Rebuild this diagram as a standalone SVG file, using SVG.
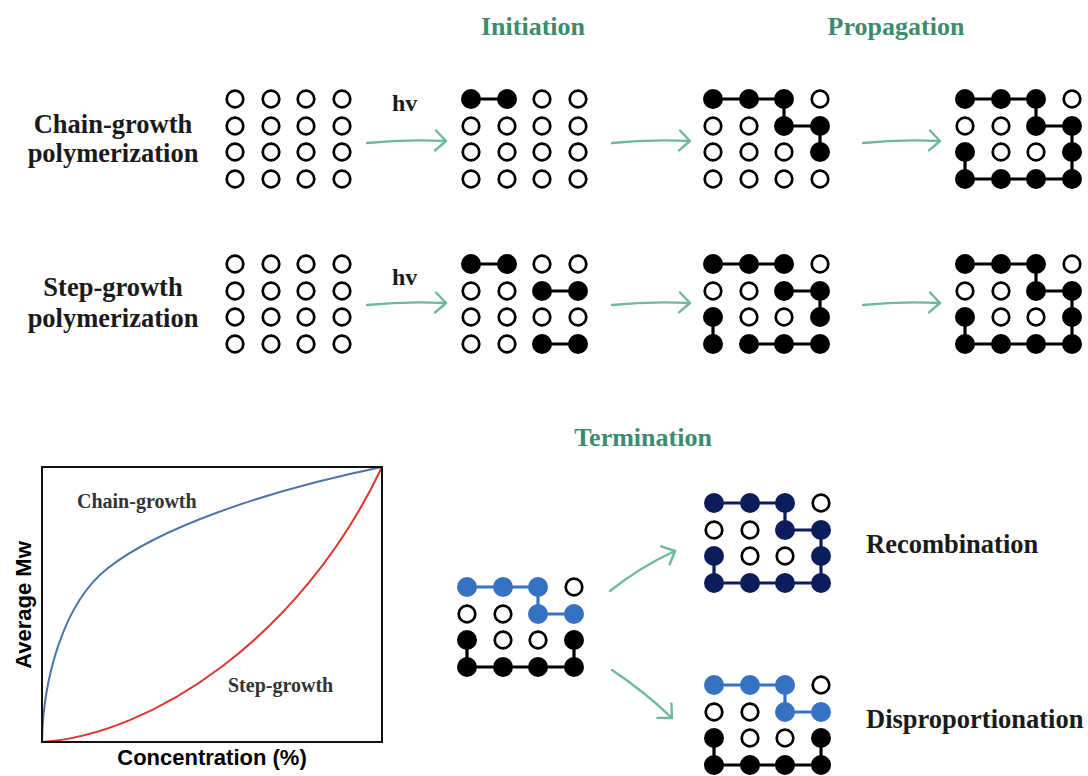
<svg xmlns="http://www.w3.org/2000/svg" width="1088" height="776" viewBox="0 0 1088 776">
<defs>
<style>
.o{fill:#fff;stroke:#000;stroke-width:2.7}
.f{fill:#000}
.fb{fill:#3572c2}
.fn{fill:#0b1d5a}
.l{fill:none;stroke:#000;stroke-width:3.2}
.lb{fill:none;stroke:#3572c2;stroke-width:3.2}
.ln{fill:none;stroke:#0b1d5a;stroke-width:3.2}
.arr{fill:none;stroke:#6db99c;stroke-width:2.4;stroke-linecap:round;marker-end:url(#ah)}
.hd{font-family:"Liberation Serif","Times New Roman",serif;font-weight:bold;font-size:26px;fill:#3d8b6e}
.lab{font-family:"Liberation Serif","Times New Roman",serif;font-weight:bold;font-size:26.5px;fill:#1a1a1a}
.hv{font-family:"Liberation Serif","Times New Roman",serif;font-weight:bold;font-size:24px;fill:#1a1a1a}
.gl{font-family:"Liberation Serif","Times New Roman",serif;font-weight:bold;font-size:20px;fill:#333}
.ax{font-family:"Liberation Sans",Arial,sans-serif;font-weight:bold;font-size:22px;fill:#000}
</style>
<marker id="ah" viewBox="0 0 14 24" refX="12" refY="12" markerWidth="14" markerHeight="24" orient="auto" markerUnits="userSpaceOnUse">
<path d="M1.5,2 L12,12 L1.5,22" fill="none" stroke="#6db99c" stroke-width="2.4" stroke-linecap="round" stroke-linejoin="round"/>
</marker>
</defs>
<rect width="1088" height="776" fill="#fff"/>

<!-- Headers -->
<text class="hd" x="533" y="35" text-anchor="middle">Initiation</text>
<text class="hd" x="896" y="35" text-anchor="middle">Propagation</text>
<text class="hd" x="643" y="446" text-anchor="middle">Termination</text>

<!-- Side labels -->
<g id="label-chain">
<text class="lab" x="113" y="133" text-anchor="middle">Chain-growth</text>
<text class="lab" x="113" y="162" text-anchor="middle">polymerization</text>
</g>
<g id="label-step">
<text class="lab" x="113" y="296" text-anchor="middle">Step-growth</text>
<text class="lab" x="113" y="327" text-anchor="middle">polymerization</text>
</g>
<text class="hv" x="392" y="111">hv</text>
<text class="hv" x="392" y="285">hv</text>
<text class="lab" x="866" y="553">Recombination</text>
<text class="lab" x="866" y="728">Disproportionation</text>

<!-- Connectors -->
<g id="connectors">
<path class="arr" d="M367,143 Q405,139 446,141"/>
<path class="arr" d="M612,143 Q650,139 690,141"/>
<path class="arr" d="M863,143 Q900,139 940,141"/>
<path class="arr" d="M367,305 Q405,301 446,303"/>
<path class="arr" d="M612,305 Q650,301 690,303"/>
<path class="arr" d="M863,305 Q900,301 940,303"/>
<path class="arr" d="M610,591 Q640,567 675,551"/>
<path class="arr" d="M612,670 Q645,692 672,718"/>
</g>

<!-- G1 chain initial -->
<g id="chain-monomers" transform="translate(235,99)">
<circle class="o" cx="0" cy="0" r="8.3"/><circle class="o" cx="36" cy="0" r="8.3"/><circle class="o" cx="71" cy="0" r="8.3"/><circle class="o" cx="107" cy="0" r="8.3"/>
<circle class="o" cx="0" cy="27" r="8.3"/><circle class="o" cx="36" cy="27" r="8.3"/><circle class="o" cx="71" cy="27" r="8.3"/><circle class="o" cx="107" cy="27" r="8.3"/>
<circle class="o" cx="0" cy="53" r="8.3"/><circle class="o" cx="36" cy="53" r="8.3"/><circle class="o" cx="71" cy="53" r="8.3"/><circle class="o" cx="107" cy="53" r="8.3"/>
<circle class="o" cx="0" cy="80" r="8.3"/><circle class="o" cx="36" cy="80" r="8.3"/><circle class="o" cx="71" cy="80" r="8.3"/><circle class="o" cx="107" cy="80" r="8.3"/>
</g>

<!-- G2 chain initiation -->
<g id="chain-initiation" transform="translate(471,99)">
<path class="l" d="M0,0 H36"/>
<circle class="f" cx="0" cy="0" r="10"/><circle class="f" cx="36" cy="0" r="10"/><circle class="o" cx="71" cy="0" r="8.3"/><circle class="o" cx="107" cy="0" r="8.3"/>
<circle class="o" cx="0" cy="27" r="8.3"/><circle class="o" cx="36" cy="27" r="8.3"/><circle class="o" cx="71" cy="27" r="8.3"/><circle class="o" cx="107" cy="27" r="8.3"/>
<circle class="o" cx="0" cy="53" r="8.3"/><circle class="o" cx="36" cy="53" r="8.3"/><circle class="o" cx="71" cy="53" r="8.3"/><circle class="o" cx="107" cy="53" r="8.3"/>
<circle class="o" cx="0" cy="80" r="8.3"/><circle class="o" cx="36" cy="80" r="8.3"/><circle class="o" cx="71" cy="80" r="8.3"/><circle class="o" cx="107" cy="80" r="8.3"/>
</g>

<!-- G3 chain propagation 1 -->
<g id="chain-propagation-1" transform="translate(713,99)">
<path class="l" d="M0,0 H71 V27 H107 V53"/>
<circle class="f" cx="0" cy="0" r="10"/><circle class="f" cx="36" cy="0" r="10"/><circle class="f" cx="71" cy="0" r="10"/><circle class="o" cx="107" cy="0" r="8.3"/>
<circle class="o" cx="0" cy="27" r="8.3"/><circle class="o" cx="36" cy="27" r="8.3"/><circle class="f" cx="71" cy="27" r="10"/><circle class="f" cx="107" cy="27" r="10"/>
<circle class="o" cx="0" cy="53" r="8.3"/><circle class="o" cx="36" cy="53" r="8.3"/><circle class="o" cx="71" cy="53" r="8.3"/><circle class="f" cx="107" cy="53" r="10"/>
<circle class="o" cx="0" cy="80" r="8.3"/><circle class="o" cx="36" cy="80" r="8.3"/><circle class="o" cx="71" cy="80" r="8.3"/><circle class="o" cx="107" cy="80" r="8.3"/>
</g>

<!-- G4 chain propagation 2 -->
<g id="chain-propagation-2" transform="translate(965,99)">
<path class="l" d="M0,0 H71 V27 H107 V80 H0 V53"/>
<circle class="f" cx="0" cy="0" r="10"/><circle class="f" cx="36" cy="0" r="10"/><circle class="f" cx="71" cy="0" r="10"/><circle class="o" cx="107" cy="0" r="8.3"/>
<circle class="o" cx="0" cy="27" r="8.3"/><circle class="o" cx="36" cy="27" r="8.3"/><circle class="f" cx="71" cy="27" r="10"/><circle class="f" cx="107" cy="27" r="10"/>
<circle class="f" cx="0" cy="53" r="10"/><circle class="o" cx="36" cy="53" r="8.3"/><circle class="o" cx="71" cy="53" r="8.3"/><circle class="f" cx="107" cy="53" r="10"/>
<circle class="f" cx="0" cy="80" r="10"/><circle class="f" cx="36" cy="80" r="10"/><circle class="f" cx="71" cy="80" r="10"/><circle class="f" cx="107" cy="80" r="10"/>
</g>

<!-- G5 step initial -->
<g id="step-monomers" transform="translate(235,264)">
<circle class="o" cx="0" cy="0" r="8.3"/><circle class="o" cx="36" cy="0" r="8.3"/><circle class="o" cx="71" cy="0" r="8.3"/><circle class="o" cx="107" cy="0" r="8.3"/>
<circle class="o" cx="0" cy="27" r="8.3"/><circle class="o" cx="36" cy="27" r="8.3"/><circle class="o" cx="71" cy="27" r="8.3"/><circle class="o" cx="107" cy="27" r="8.3"/>
<circle class="o" cx="0" cy="53" r="8.3"/><circle class="o" cx="36" cy="53" r="8.3"/><circle class="o" cx="71" cy="53" r="8.3"/><circle class="o" cx="107" cy="53" r="8.3"/>
<circle class="o" cx="0" cy="80" r="8.3"/><circle class="o" cx="36" cy="80" r="8.3"/><circle class="o" cx="71" cy="80" r="8.3"/><circle class="o" cx="107" cy="80" r="8.3"/>
</g>

<!-- G6 step initiation -->
<g id="step-initiation" transform="translate(471,264)">
<path class="l" d="M0,0 H36 M71,27 H107 M71,80 H107"/>
<circle class="f" cx="0" cy="0" r="10"/><circle class="f" cx="36" cy="0" r="10"/><circle class="o" cx="71" cy="0" r="8.3"/><circle class="o" cx="107" cy="0" r="8.3"/>
<circle class="o" cx="0" cy="27" r="8.3"/><circle class="o" cx="36" cy="27" r="8.3"/><circle class="f" cx="71" cy="27" r="10"/><circle class="f" cx="107" cy="27" r="10"/>
<circle class="o" cx="0" cy="53" r="8.3"/><circle class="o" cx="36" cy="53" r="8.3"/><circle class="o" cx="71" cy="53" r="8.3"/><circle class="o" cx="107" cy="53" r="8.3"/>
<circle class="o" cx="0" cy="80" r="8.3"/><circle class="o" cx="36" cy="80" r="8.3"/><circle class="f" cx="71" cy="80" r="10"/><circle class="f" cx="107" cy="80" r="10"/>
</g>

<!-- G7 step propagation 1 -->
<g id="step-propagation-1" transform="translate(713,264)">
<path class="l" d="M0,0 H71 M71,27 H107 V53 M0,53 V80 M36,80 H107"/>
<circle class="f" cx="0" cy="0" r="10"/><circle class="f" cx="36" cy="0" r="10"/><circle class="f" cx="71" cy="0" r="10"/><circle class="o" cx="107" cy="0" r="8.3"/>
<circle class="o" cx="0" cy="27" r="8.3"/><circle class="o" cx="36" cy="27" r="8.3"/><circle class="f" cx="71" cy="27" r="10"/><circle class="f" cx="107" cy="27" r="10"/>
<circle class="f" cx="0" cy="53" r="10"/><circle class="o" cx="36" cy="53" r="8.3"/><circle class="o" cx="71" cy="53" r="8.3"/><circle class="f" cx="107" cy="53" r="10"/>
<circle class="f" cx="0" cy="80" r="10"/><circle class="f" cx="36" cy="80" r="10"/><circle class="f" cx="71" cy="80" r="10"/><circle class="f" cx="107" cy="80" r="10"/>
</g>

<!-- G8 step propagation 2 -->
<g id="step-propagation-2" transform="translate(965,264)">
<path class="l" d="M0,0 H71 V27 H107 V80 H0 V53"/>
<circle class="f" cx="0" cy="0" r="10"/><circle class="f" cx="36" cy="0" r="10"/><circle class="f" cx="71" cy="0" r="10"/><circle class="o" cx="107" cy="0" r="8.3"/>
<circle class="o" cx="0" cy="27" r="8.3"/><circle class="o" cx="36" cy="27" r="8.3"/><circle class="f" cx="71" cy="27" r="10"/><circle class="f" cx="107" cy="27" r="10"/>
<circle class="f" cx="0" cy="53" r="10"/><circle class="o" cx="36" cy="53" r="8.3"/><circle class="o" cx="71" cy="53" r="8.3"/><circle class="f" cx="107" cy="53" r="10"/>
<circle class="f" cx="0" cy="80" r="10"/><circle class="f" cx="36" cy="80" r="10"/><circle class="f" cx="71" cy="80" r="10"/><circle class="f" cx="107" cy="80" r="10"/>
</g>

<!-- T1 termination source -->
<g id="termination-source" transform="translate(467,587)">
<path class="lb" d="M0,0 H71 V27 H107"/>
<path class="l" d="M0,53 V80 H107 V53"/>
<circle class="fb" cx="0" cy="0" r="10"/><circle class="fb" cx="36" cy="0" r="10"/><circle class="fb" cx="71" cy="0" r="10"/><circle class="o" cx="107" cy="0" r="8.3"/>
<circle class="o" cx="0" cy="27" r="8.3"/><circle class="o" cx="36" cy="27" r="8.3"/><circle class="fb" cx="71" cy="27" r="10"/><circle class="fb" cx="107" cy="27" r="10"/>
<circle class="f" cx="0" cy="53" r="10"/><circle class="o" cx="36" cy="53" r="8.3"/><circle class="o" cx="71" cy="53" r="8.3"/><circle class="f" cx="107" cy="53" r="10"/>
<circle class="f" cx="0" cy="80" r="10"/><circle class="f" cx="36" cy="80" r="10"/><circle class="f" cx="71" cy="80" r="10"/><circle class="f" cx="107" cy="80" r="10"/>
</g>

<!-- T2 recombination -->
<g id="recombination" transform="translate(714,503)">
<path class="ln" d="M0,0 H71 V27 H107 V80 H0 V53"/>
<circle class="fn" cx="0" cy="0" r="10"/><circle class="fn" cx="36" cy="0" r="10"/><circle class="fn" cx="71" cy="0" r="10"/><circle class="o" cx="107" cy="0" r="8.3"/>
<circle class="o" cx="0" cy="27" r="8.3"/><circle class="o" cx="36" cy="27" r="8.3"/><circle class="fn" cx="71" cy="27" r="10"/><circle class="fn" cx="107" cy="27" r="10"/>
<circle class="fn" cx="0" cy="53" r="10"/><circle class="o" cx="36" cy="53" r="8.3"/><circle class="o" cx="71" cy="53" r="8.3"/><circle class="fn" cx="107" cy="53" r="10"/>
<circle class="fn" cx="0" cy="80" r="10"/><circle class="fn" cx="36" cy="80" r="10"/><circle class="fn" cx="71" cy="80" r="10"/><circle class="fn" cx="107" cy="80" r="10"/>
</g>

<!-- T3 disproportionation -->
<g id="disproportionation" transform="translate(714,685)">
<path class="lb" d="M0,0 H71 V27 H107"/>
<path class="l" d="M0,53 V80 H107 V53"/>
<circle class="fb" cx="0" cy="0" r="10"/><circle class="fb" cx="36" cy="0" r="10"/><circle class="fb" cx="71" cy="0" r="10"/><circle class="o" cx="107" cy="0" r="8.3"/>
<circle class="o" cx="0" cy="27" r="8.3"/><circle class="o" cx="36" cy="27" r="8.3"/><circle class="fb" cx="71" cy="27" r="10"/><circle class="fb" cx="107" cy="27" r="10"/>
<circle class="f" cx="0" cy="53" r="10"/><circle class="o" cx="36" cy="53" r="8.3"/><circle class="o" cx="71" cy="53" r="8.3"/><circle class="f" cx="107" cy="53" r="10"/>
<circle class="f" cx="0" cy="80" r="10"/><circle class="f" cx="36" cy="80" r="10"/><circle class="f" cx="71" cy="80" r="10"/><circle class="f" cx="107" cy="80" r="10"/>
</g>

<!-- Graph -->
<g id="graph">
<path d="M42,742 C43,680 63,603 108,568 C158,529 260,492 382,467" fill="none" stroke="#4a74aa" stroke-width="2"/>
<path d="M42,742 C150,735 300,640 382,467" fill="none" stroke="#e0342c" stroke-width="2"/>
<rect x="42" y="467" width="340" height="275" fill="none" stroke="#111" stroke-width="2"/>
<text class="gl" x="77" y="508">Chain-growth</text>
<text class="gl" x="228" y="692">Step-growth</text>
<text class="ax" transform="translate(31,605) rotate(-90)" text-anchor="middle">Average Mw</text>
<text class="ax" x="212" y="765" text-anchor="middle">Concentration (%)</text>
</g>
</svg>
